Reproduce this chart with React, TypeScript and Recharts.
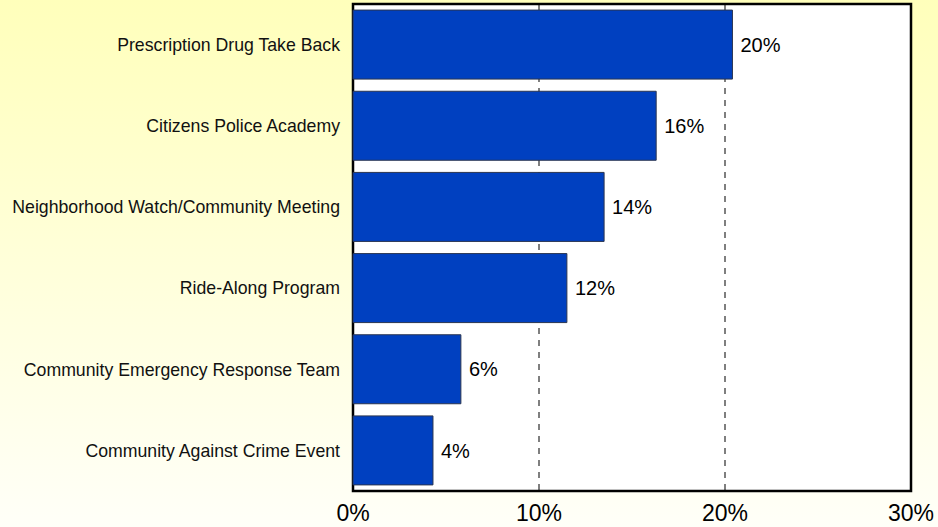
import React from "react";
import {
  BarChart,
  Bar,
  XAxis,
  YAxis,
  CartesianGrid,
  LabelList,
  ReferenceArea,
} from "recharts";

const programs = [
  "Prescription Drug Take Back",
  "Citizens Police Academy",
  "Neighborhood Watch/Community Meeting",
  "Ride-Along Program",
  "Community Emergency Response Team",
  "Community Against Crime Event",
];
const shares = [20.4, 16.3, 13.5, 11.5, 5.8, 4.3];
const xTicks = [0, 10, 20, 30];

const data = programs.map((name, i) => ({ name, value: shares[i] }));

export default function App() {
  return (
    <div
      style={{
        width: 938,
        height: 527,
        background: "linear-gradient(to bottom, #ffffbb 0%, #fffff8 100%)",
        fontFamily: "'Liberation Sans', Arial, sans-serif",
      }}
    >
      <style>{"body{margin:0}"}</style>
      <BarChart
        width={938}
        height={527}
        data={data}
        layout="vertical"
        margin={{ top: 4, right: 27, bottom: 0, left: 0 }}
        barCategoryGap="7.5%"
      >
        <CartesianGrid
          horizontal={false}
          fill="#ffffff"
          stroke="#555555"
          strokeWidth={1.5}
          strokeDasharray="6 6"
        />
        <XAxis
          type="number"
          domain={[0, 30]}
          ticks={xTicks}
          height={36}
          tickFormatter={(v: number) => `${v}%`}
          tick={{ fontSize: 23, fill: "#000" }}
          tickLine={false}
          axisLine={false}
          tickMargin={8}
        />
        <YAxis
          type="category"
          dataKey="name"
          width={353}
          tick={{ fontSize: 17.7, fill: "#111" }}
          tickLine={false}
          axisLine={false}
          tickMargin={7}
        />
        <Bar
          dataKey="value"
          fill="#0040c0"
          stroke="#2a3550"
          strokeWidth={1}
          isAnimationActive={false}
        >
          <LabelList
            dataKey="value"
            position="right"
            offset={8}
            formatter={(v: number) => `${Math.round(v)}%`}
            style={{ fontSize: 20, fill: "#000" }}
          />
        </Bar>
        <ReferenceArea
          x1={0}
          x2={30}
          fill="none"
          stroke="#000"
          strokeWidth={2.5}
          ifOverflow="extendDomain"
        />
      </BarChart>
    </div>
  );
}
